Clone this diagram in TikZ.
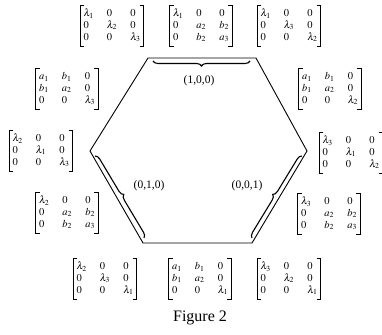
\documentclass[tikz,border=0pt]{standalone}
\usepackage{amsmath}
\usepackage{mathptmx}
\usepackage[no-math]{fontspec}
\setmainfont{Liberation Serif}
\usetikzlibrary{decorations.pathreplacing}
\newcommand{\mtx}[1]{$\setlength{\arraycolsep}{6.6pt}\renewcommand{\arraystretch}{0.98}\begin{array}{@{}lll@{}}#1\end{array}$}
\newcommand{\brk}[1]{%
  \draw[brkline] ([xshift=4pt]#1.north west) -- (#1.north west) -- (#1.south west) -- ([xshift=4pt]#1.south west);
  \draw[brkline] ([xshift=-4pt]#1.north east) -- (#1.north east) -- (#1.south east) -- ([xshift=-4pt]#1.south east);}
\tikzset{
  mat/.style={inner xsep=3pt, inner ysep=2.5pt, font=\fontsize{10.5}{12}\selectfont},
  brkline/.style={line width=0.9pt},
  lbl/.style={inner sep=0pt, font=\fontsize{11.5}{14}\selectfont},
  hexline/.style={line width=0.9pt},
  brc/.style={decorate, decoration={brace, amplitude=5pt}, line width=1.1pt}
}
\begin{document}
\begin{tikzpicture}[x=1pt,y=-1pt]
\useasboundingbox (0,0) rectangle (382,334);
% hexagon
\coordinate (tl) at (148,58);
\coordinate (tr) at (256,58);
\coordinate (r) at (307,151);
\coordinate (br) at (252,243);
\coordinate (bl) at (143,243);
\coordinate (l) at (90,151);
\draw[hexline, line join=miter] (tl) -- (tr) -- (r) -- (br) -- (bl) -- (l) -- cycle;
% braces
\coordinate (b1s) at (250,61);
\coordinate (b1e) at (153,61);
\coordinate (b2s) at (95,156);
\coordinate (b2e) at (144,238);
\coordinate (b3s) at (252,238);
\coordinate (b3e) at (302,156);
\draw[brc] (b1s) -- (b1e);
\draw[brc] (b2s) -- (b2e);
\draw[brc] (b3s) -- (b3e);
\node[lbl] (l100) at (199,81) {(1,0,0)};
\node[lbl] (l010) at (149,186) {(0,1,0)};
\node[lbl] (l001) at (247,186) {(0,0,1)};
% matrices
\node[mat] (m1) at (112,26) {\mtx{\lambda_1 & 0 & 0\\ 0 & \lambda_2 & 0\\ 0 & 0 & \lambda_3}};
\node[mat] (m2) at (201,26) {\mtx{\lambda_1 & 0 & 0\\ 0 & a_2 & b_2\\ 0 & b_2 & a_3}};
\node[mat] (m3) at (289,26) {\mtx{\lambda_1 & 0 & 0\\ 0 & \lambda_3 & 0\\ 0 & 0 & \lambda_2}};
\node[mat] (m4) at (67,89) {\mtx{a_1 & b_1 & 0\\ b_1 & a_2 & 0\\ 0 & 0 & \lambda_3}};
\node[mat] (m5) at (330,89) {\mtx{a_1 & b_1 & 0\\ b_1 & a_2 & 0\\ 0 & 0 & \lambda_2}};
\node[mat] (m6) at (41,151) {\mtx{\lambda_2 & 0 & 0\\ 0 & \lambda_1 & 0\\ 0 & 0 & \lambda_3}};
\node[mat] (m7) at (351,153) {\mtx{\lambda_3 & 0 & 0\\ 0 & \lambda_1 & 0\\ 0 & 0 & \lambda_2}};
\node[mat] (m8) at (67,213) {\mtx{\lambda_2 & 0 & 0\\ 0 & a_2 & b_2\\ 0 & b_2 & a_3}};
\node[mat] (m9) at (329,214) {\mtx{\lambda_3 & 0 & 0\\ 0 & a_2 & b_2\\ 0 & b_2 & a_3}};
\node[mat] (m10) at (105,279) {\mtx{\lambda_2 & 0 & 0\\ 0 & \lambda_3 & 0\\ 0 & 0 & \lambda_1}};
\node[mat] (m11) at (200,279) {\mtx{a_1 & b_1 & 0\\ b_1 & a_2 & 0\\ 0 & 0 & \lambda_1}};
\node[mat] (m12) at (289,279) {\mtx{\lambda_3 & 0 & 0\\ 0 & \lambda_2 & 0\\ 0 & 0 & \lambda_1}};
\foreach \m in {m1,m2,m3,m4,m5,m6,m7,m8,m9,m10,m11,m12} {\brk{\m}}
\node[inner sep=0pt, font=\fontsize{16}{18}\selectfont] (cap) at (200,318) {Figure 2};
\end{tikzpicture}
\end{document}
